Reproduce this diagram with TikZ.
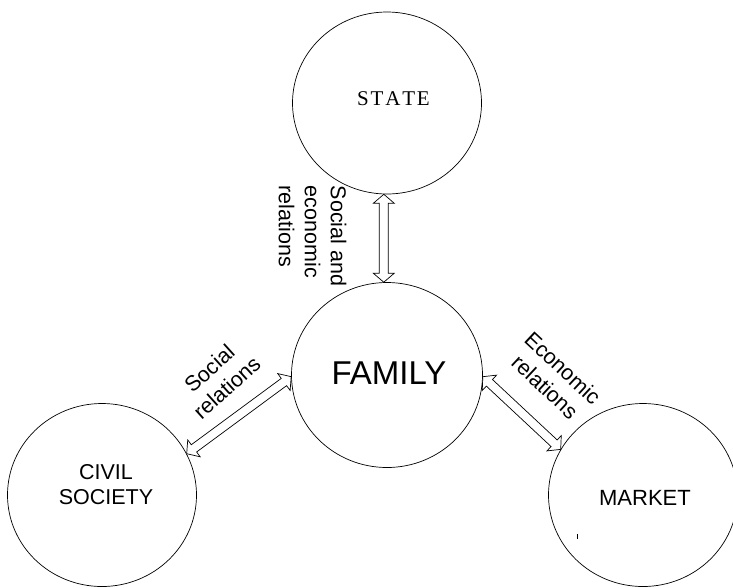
\documentclass[tikz,border=0pt]{standalone}
\usepackage{fontspec}
\setmainfont{Liberation Sans}
\newfontfamily\seriffont{Liberation Serif}
\usetikzlibrary{shapes.geometric,calc}
\def\ahead{9pt}
\def\awide{10.5pt}
\def\ashaft{4.5pt}
\newcommand\hollowarrow[2]{%
  \coordinate (ha-P) at ($(#1)!\ahead!(#2)$);
  \coordinate (ha-Q) at ($(#2)!\ahead!(#1)$);
  \draw[arrowline] (#1) -- ($(ha-P)!\awide!90:(#2)$) -- ($(ha-P)!\ashaft!90:(#2)$)
    -- ($(ha-Q)!\ashaft!-90:(#1)$) -- ($(ha-Q)!\awide!-90:(#1)$) -- (#2)
    -- ($(ha-Q)!\awide!90:(#1)$) -- ($(ha-Q)!\ashaft!90:(#1)$)
    -- ($(ha-P)!\ashaft!-90:(#2)$) -- ($(ha-P)!\awide!-90:(#2)$) -- cycle;}
\tikzset{
  circ/.style={draw, ellipse, line width=0.7pt, inner sep=0pt},
  arrowline/.style={draw, line width=0.7pt, fill=white, line join=miter},
  lbl/.style={inner sep=0pt, font=\fontsize{21.5}{26}\selectfont}
}
\begin{document}
\begin{tikzpicture}[x=1pt, y=-1pt]
\useasboundingbox (0,0) rectangle (733,587);
\node[circ, minimum width=189pt, minimum height=182pt] (state) at (387,103) {};
\node[circ, minimum width=191pt, minimum height=185pt] (fam) at (387,375) {};
\node[circ, minimum width=189pt, minimum height=183pt] (civ) at (102,495) {};
\node[circ, minimum width=189pt, minimum height=183pt] (mkt) at (643,495) {};

\node[inner sep=0pt, font=\seriffont\fontsize{21}{23}\selectfont] (statetxt) at (393.5,99) {S\kern1.8pt T\kern1.8pt A\kern1.8pt T\kern1.8pt E};
\node[inner sep=0pt, font=\fontsize{33}{36}\selectfont] (famtxt) at (389,373.5) {FAMILY};
\node[inner sep=0pt, align=center, font=\fontsize{21.5}{25}\selectfont] (civtxt) at (106,485) {CIVIL\\SOCIETY};
\node[inner sep=0pt, font=\fontsize{22}{25}\selectfont] (mkttxt) at (645,498) {MARKET};

\node[lbl, rotate=-90, align=left] (lblstate) at (312.5,236) {Social and\\economic\\relations};
\node[lbl, rotate=42, align=center] (lblsoc) at (218,378) {Social\\relations};
\node[lbl, rotate=-43, align=center] (lblecon) at (554,377.5) {Economic\\relations};

\hollowarrow{state.268}{fam.92}
\hollowarrow{civ.26}{fam.181}
\hollowarrow{fam.359}{mkt.151}

\draw[line width=0.7pt] (577,534) -- (577,539);
\end{tikzpicture}
\end{document}
